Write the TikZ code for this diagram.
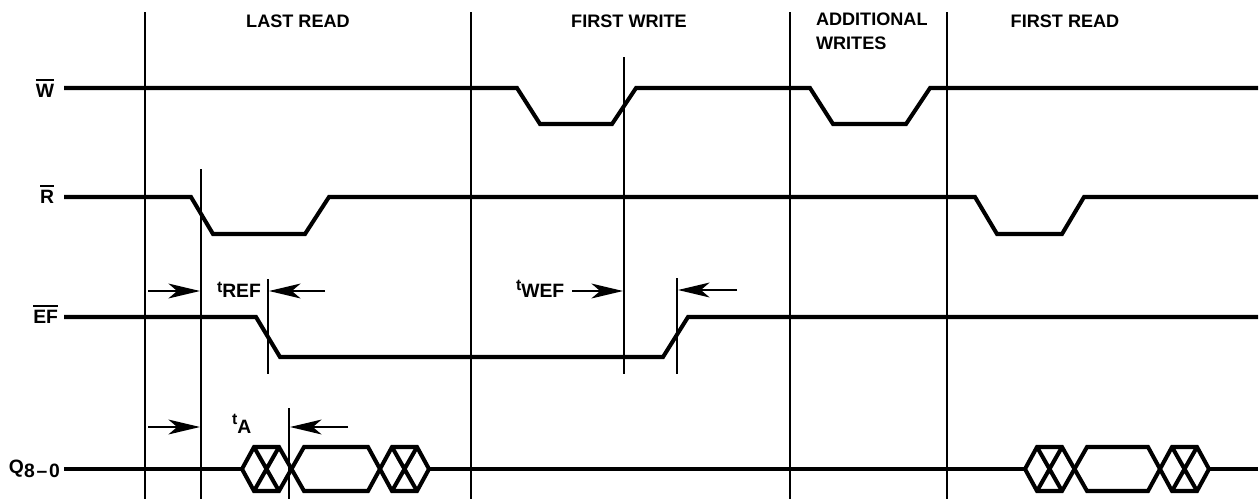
\documentclass[tikz,border=0pt]{standalone}
\usepackage{fontspec}
\setmainfont{Liberation Sans}
\usetikzlibrary{arrows.meta}
\newcommand\ovl[1]{\leavevmode\vbox{\hrule height 1.1pt\kern 1.4pt\hbox{#1}}}
\newcommand\tlab[2]{{\fontsize{9}{9}\selectfont t}\raisebox{#2}{#1}}
\begin{document}
\begin{tikzpicture}[x=0.02cm,y=-0.02cm,
  every node/.style={inner sep=0pt,outer sep=0pt,font=\bfseries\fontsize{10.3}{12}\selectfont},
  biglab/.style={font=\bfseries\fontsize{11}{12}\selectfont},
  sig/.style={line width=2.3pt,line join=miter},
  vline/.style={line width=1.1pt},
  meas/.style={line width=0.8pt,-{Stealth[length=18pt,width=8.5pt,inset=5pt]}}]
\useasboundingbox (0,0) rectangle (1260,501);
% phase headers
\node[anchor=base] (hLR) at (298,27) {LAST READ};
\node[anchor=base] (hFW) at (629,27) {FIRST WRITE};
\node[anchor=north west,align=left,font=\bfseries\fontsize{10.3}{13.6}\selectfont] (hAW) at (816,13) {ADDITIONAL\\WRITES};
\node[anchor=base] (hFR) at (1065,27) {FIRST READ};
% vertical reference lines
\foreach \x in {145,471,790,947} \draw[vline] (\x,12) -- (\x,499);
\draw[vline] (201,169) -- (201,499);
\draw[vline] (268,279) -- (268,374);
\draw[vline] (289,408) -- (289,499);
\draw[vline] (624,57) -- (624,374);
\draw[vline] (677,278) -- (677,374);
% signal labels
\node[biglab,anchor=base east] (lW) at (54,97) {\ovl{W}};
\node[biglab,anchor=base east] (lR) at (54,203) {\ovl{R}};
\node[biglab,anchor=base east] (lEF) at (58,323) {\ovl{EF}};
\node[biglab,anchor=base west] (lQ) at (9,473) {Q\raisebox{-2.8pt}{8\kern1pt–\kern1pt0}};
% W
\draw[sig] (64,88) -- (517,88) -- (540,124) -- (612,124) -- (636,88) -- (810,88) -- (833,124) -- (906,124) -- (930,88) -- (1258,88);
% R
\draw[sig] (64,197) -- (191,197) -- (213,234) -- (305,234) -- (329,197) -- (975,197) -- (997,234) -- (1062,234) -- (1084,197) -- (1258,197);
% EF
\draw[sig] (64,317) -- (256,317) -- (280,357) -- (663,357) -- (688,317) -- (1258,317);
% Q bus
\draw[sig] (64,469) -- (242,469);
\draw[sig] (242,469) -- (254,447) -- (279,447) -- (304,491) -- (368,491) -- (392,447) -- (417,447) -- (429,469);
\draw[sig] (242,469) -- (254,491) -- (279,491) -- (304,447) -- (368,447) -- (392,491) -- (417,491) -- (429,469);
\draw[sig] (254,447) -- (279,491) (254,491) -- (279,447) (392,447) -- (417,491) (392,491) -- (417,447);
\draw[sig] (429,469) -- (1025,469);
\draw[sig] (1025,469) -- (1037,447) -- (1062,447) -- (1087,491) -- (1148,491) -- (1172,447) -- (1197,447) -- (1209,469);
\draw[sig] (1025,469) -- (1037,491) -- (1062,491) -- (1087,447) -- (1148,447) -- (1172,491) -- (1197,491) -- (1209,469);
\draw[sig] (1037,447) -- (1062,491) (1037,491) -- (1062,447) (1172,447) -- (1197,491) (1172,491) -- (1197,447);
\draw[sig] (1209,469) -- (1258,469);
% timing labels
\node[biglab,anchor=base west] (tREF) at (217,292) {\tlab{REF}{-3.4pt}};
\node[biglab,anchor=base west] (tA) at (232,424) {\tlab{A}{-5.5pt}};
\node[biglab,anchor=base west] (tWEF) at (516,290) {\tlab{WEF}{-4pt}};
% measurement arrows
\coordinate (a1s) at (148,291); \coordinate (a1e) at (200,291);
\coordinate (a2s) at (325,291); \coordinate (a2e) at (269,291);
\coordinate (a3s) at (148,427); \coordinate (a3e) at (200,427);
\coordinate (a4s) at (348,427); \coordinate (a4e) at (290,427);
\coordinate (a5s) at (572,291); \coordinate (a5e) at (623,291);
\coordinate (a6s) at (737,290); \coordinate (a6e) at (678,290);
\draw[meas] (a1s) -- (a1e);
\draw[meas] (a2s) -- (a2e);
\draw[meas] (a3s) -- (a3e);
\draw[meas] (a4s) -- (a4e);
\draw[meas] (a5s) -- (a5e);
\draw[meas] (a6s) -- (a6e);
\end{tikzpicture}
\end{document}
